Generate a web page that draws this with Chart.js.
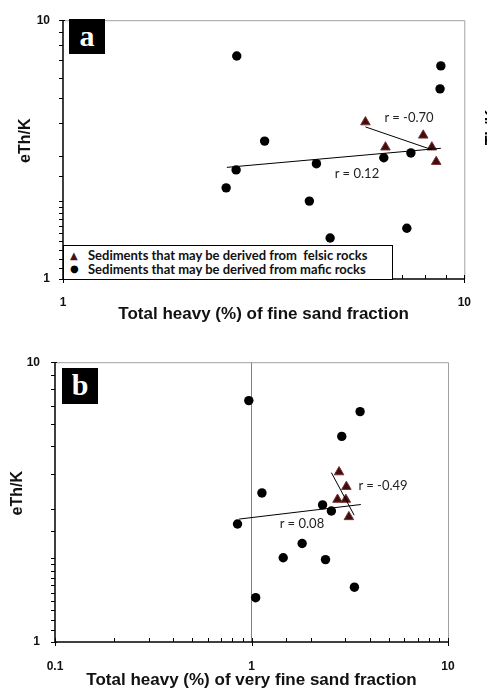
<!DOCTYPE html>
<html>
<head>
<meta charset="utf-8">
<script src="https://cdn.jsdelivr.net/npm/chart.js@4.4.0/dist/chart.umd.min.js"></script>
<style>
  body { margin: 0; background: #fff; width: 487px; height: 689px; overflow: hidden; position: relative; }
  .panel { position: absolute; left: 0; width: 487px; overflow: hidden; }
  #pa { top: 0; height: 340px; }
  #pb { top: 340px; height: 351px; }
  canvas { position: absolute; left: 0; top: 0; }
  .tag { position: absolute; background: #000; color: #fff; font: bold 30px "Liberation Serif", serif; text-align: center; }
  .rlab { position: absolute; font: 13px Lato, sans-serif; color: #222; transform: translate(-50%, -50%); white-space: nowrap; }
  .legend { position: absolute; border: 1px solid #000; background: #fff; font: bold 13px Lato, sans-serif; color: #111; box-sizing: border-box; }
  .legend div { position: absolute; left: 24px; white-space: pre; line-height: 15px; }
  .legend span { position: absolute; font: 10px "DejaVu Sans", sans-serif; line-height: 12px; }
  .cut { position: absolute; font: bold 16px "Liberation Sans", sans-serif; transform: translate(-50%, -50%) rotate(-90deg); }
</style>
</head>
<body>
<div class="panel" id="pa">
  <canvas id="chartA" width="487" height="340"></canvas>
  <div class="tag" style="left:69px;top:19px;width:36px;height:35px;line-height:33px;">a</div>
  <div class="rlab" style="left:409px;top:117px;">r = -0.70</div>
  <div class="rlab" style="left:357px;top:173px;">r = 0.12</div>
  <div class="legend" style="left:63px;top:245px;width:330px;height:35px;">
    <span style="left:6px;top:4px;color:#4a1212;">▲</span>
    <div style="top:2px;">Sediments that may be derived from  felsic rocks</div>
    <span style="left:6px;top:17px;color:#000;">●</span>
    <div style="top:16px;">Sediments that may be derived from mafic rocks</div>
  </div>
  <div class="cut" style="left:492px;top:132px;">eTh/K</div>
</div>
<div class="panel" id="pb">
  <canvas id="chartB" width="487" height="351"></canvas>
  <div class="tag" style="left:62px;top:28px;width:36px;height:36px;line-height:34px;">b</div>
  <div class="rlab" style="left:383px;top:145px;">r = -0.49</div>
  <div class="rlab" style="left:302px;top:183px;">r = 0.08</div>
</div>
<script>
// panel a: fine sand fraction
const felsicAx = [5.67, 7.90, 6.36, 8.30, 8.51];
const felsicAy = [4.04, 3.59, 3.23, 3.23, 2.84];
const maficAx = [2.71, 8.74, 8.70, 3.18, 6.30, 7.36, 4.28, 2.70, 2.55, 4.11, 4.63, 7.19];
const maficAy = [7.27, 6.66, 5.43, 3.41, 2.94, 3.07, 2.79, 2.64, 2.25, 2.00, 1.44, 1.57];
const trendFelsicAx = [5.67, 8.30];
const trendFelsicAy = [3.87, 3.16];
const trendMaficAx = [2.56, 8.74];
const trendMaficAy = [2.70, 3.20];

// panel b: very fine sand fraction
const felsicBx = [2.79, 3.04, 2.74, 3.02, 3.13];
const felsicBy = [4.05, 3.59, 3.23, 3.23, 2.80];
const maficBx = [0.969, 3.57, 2.88, 1.13, 2.30, 2.55, 0.849, 1.81, 1.45, 2.38, 3.34, 1.05];
const maficBy = [7.29, 6.66, 5.43, 3.41, 3.09, 2.94, 2.64, 2.25, 2.00, 1.97, 1.57, 1.44];
const trendFelsicBx = [2.55, 3.33];
const trendFelsicBy = [4.03, 2.84];
const trendMaficBx = [0.865, 3.60];
const trendMaficBy = [2.75, 3.10];

const isDecade = v => Math.abs(Math.log10(v) - Math.round(Math.log10(v))) < 1e-9;
const pts = (xs, ys) => xs.map((x, i) => ({ x: x, y: ys[i] }));

// frame, axis lines and tick marks (Excel style)
const frameTicks = {
  id: 'frameTicks',
  afterDraw(chart) {
    const { ctx, chartArea: a, scales: { x, y } } = chart;
    ctx.save();
    ctx.strokeStyle = '#a0a0a0';
    ctx.lineWidth = 1;
    ctx.beginPath();
    ctx.moveTo(a.left, a.top + 0.5);
    ctx.lineTo(a.right + 0.5, a.top + 0.5);
    ctx.lineTo(a.right + 0.5, a.bottom);
    ctx.stroke();

    ctx.strokeStyle = '#000';
    ctx.lineWidth = 1.5;
    ctx.beginPath();
    ctx.moveTo(a.left, a.top);
    ctx.lineTo(a.left, a.bottom);
    ctx.lineTo(a.right, a.bottom);
    ctx.stroke();

    ctx.lineWidth = 1;
    ctx.beginPath();
    x.ticks.forEach(t => {
      const px = Math.round(x.getPixelForValue(t.value)) + 0.5;
      ctx.moveTo(px, a.bottom - 4);
      ctx.lineTo(px, a.bottom + (isDecade(t.value) ? 4 : 0));
    });
    y.ticks.forEach(t => {
      const py = Math.round(y.getPixelForValue(t.value)) + 0.5;
      ctx.moveTo(a.left - 4, py);
      ctx.lineTo(a.left + (isDecade(t.value) ? 2 : 0), py);
    });
    ctx.stroke();
    ctx.restore();
  }
};

function makeChart(id, o) {
  return new Chart(document.getElementById(id), {
    type: 'scatter',
    data: {
      datasets: [
        { type: 'line', data: pts(o.tfx, o.tfy), borderColor: '#000', borderWidth: 1, pointRadius: 0, fill: false },
        { type: 'line', data: pts(o.tmx, o.tmy), borderColor: '#000', borderWidth: 1, pointRadius: 0, fill: false },
        { data: pts(o.fx, o.fy), pointStyle: 'triangle', pointRadius: 5.5, backgroundColor: '#3e0d0d', borderColor: '#7a3030', borderWidth: 1 },
        { data: pts(o.mx, o.my), pointStyle: 'circle', pointRadius: 4.7, backgroundColor: '#000', borderColor: '#000', borderWidth: 0 }
      ]
    },
    options: {
      responsive: false,
      animation: false,
      layout: { padding: { left: 0, top: o.padTop, right: o.padRight, bottom: 0 } },
      plugins: { legend: { display: false }, tooltip: { enabled: false } },
      scales: {
        x: {
          type: 'logarithmic',
          min: o.xmin, max: o.xmax,
          border: { display: false },
          grid: {
            drawTicks: false,
            color: c => (o.gridOne && c.tick && c.tick.value === 1) ? '#808080' : 'rgba(0,0,0,0)'
          },
          ticks: {
            autoSkip: false, maxRotation: 0, padding: o.xTickPad,
            color: '#111', font: { family: 'Liberation Sans', weight: 'bold', size: 12 },
            callback: v => isDecade(v) ? String(v) : ''
          },
          title: {
            display: true, text: o.xTitle, color: '#111',
            font: { family: 'Liberation Sans', weight: 'bold', size: 17 },
            padding: { top: 0, bottom: o.xTitlePad }
          },
          afterFit: s => { s.height = o.xHeight; }
        },
        y: {
          type: 'logarithmic',
          min: 1, max: 10,
          border: { display: false },
          grid: { drawTicks: false, color: 'rgba(0,0,0,0)' },
          ticks: {
            autoSkip: false, padding: o.yTickPad,
            color: '#111', font: { family: 'Liberation Sans', weight: 'bold', size: 12 },
            callback: v => isDecade(v) ? String(v) : ''
          },
          title: {
            display: true, text: '    eTh/K', color: '#111',
            font: { family: 'Liberation Sans', weight: 'bold', size: 16 },
            padding: { top: o.yTitlePad, bottom: 0 }
          },
          afterFit: s => { s.width = o.yWidth; }
        }
      }
    },
    plugins: [frameTicks]
  });
}

makeChart('chartA', {
  fx: felsicAx, fy: felsicAy, mx: maficAx, my: maficAy,
  tfx: trendFelsicAx, tfy: trendFelsicAy, tmx: trendMaficAx, tmy: trendMaficAy,
  xmin: 1, xmax: 10, gridOne: false,
  padTop: 14, padRight: 21, yWidth: 63, xHeight: 61,
  xTickPad: 16, yTickPad: 13, xTitlePad: 15, yTitlePad: 16,
  xTitle: 'Total heavy (%) of fine sand fraction'
});

makeChart('chartB', {
  fx: felsicBx, fy: felsicBy, mx: maficBx, my: maficBy,
  tfx: trendFelsicBx, tfy: trendFelsicBy, tmx: trendMaficBx, tmy: trendMaficBy,
  xmin: 0.1, xmax: 10, gridOne: true,
  padTop: 22, padRight: 39, yWidth: 55, xHeight: 49,
  xTickPad: 17, yTickPad: 15, xTitlePad: 0, yTitlePad: 8,
  xTitle: 'Total heavy (%) of very fine sand fraction'
});
</script>
</body>
</html>
